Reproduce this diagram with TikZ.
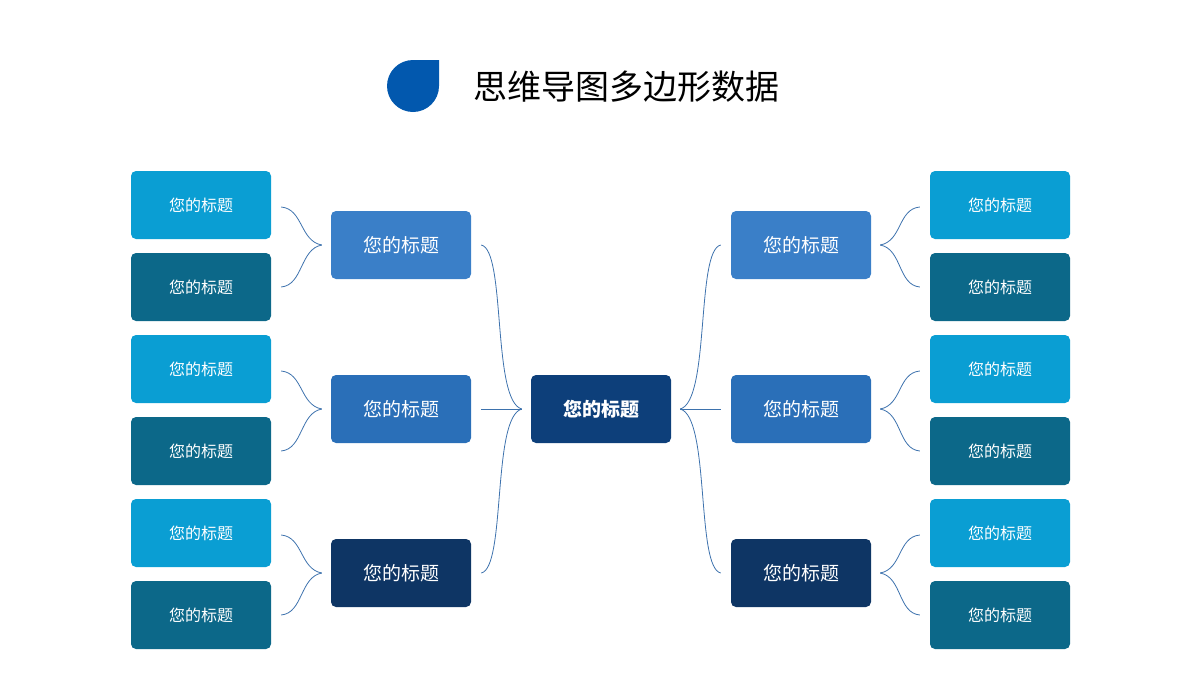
\documentclass[tikz,border=0pt]{standalone}
\usepackage{fontspec}
\newfontfamily\cjk{Noto Sans CJK SC}
\usetikzlibrary{calc}
\definecolor{leafA}{HTML}{0A9ED3}
\definecolor{leafB}{HTML}{0C6889}
\definecolor{midA}{HTML}{3A7FC8}
\definecolor{midB}{HTML}{2A6FB8}
\definecolor{midC}{HTML}{0E3564}
\definecolor{ctr}{HTML}{0D3F7A}
\definecolor{lnk}{HTML}{3D72AD}
\definecolor{icon}{HTML}{0258AE}
\begin{document}
\begin{tikzpicture}[x=1pt,y=-1pt,
  box/.style={rounded corners=5pt,minimum width=140pt,minimum height=68pt,inner sep=0pt,text=white,font=\cjk\fontsize{19}{19}\selectfont},
  leaf/.style={box,font=\cjk\fontsize{16}{16}\selectfont},
  link/.style={draw=lnk,line width=0.8pt}]
\useasboundingbox (0,0) rectangle (1200,675);
\fill[icon] (439,60) -- (439,86) arc (0:270:26) -- cycle;
\node[anchor=west,font=\cjk\fontsize{34}{34}\selectfont] (title) at (470,87) {思维导图多边形数据};
\node[box,fill=ctr,font=\cjk\bfseries\fontsize{19}{19}\selectfont] (c) at (601,409) {您的标题};
\foreach \s/\mx/\lx/\d in {L/401/201/1, R/801/1000/-1}{
  \foreach \i/\y/\col in {1/245/midA, 2/409/midB, 3/573/midC}{
    \node[box,fill=\col] (\s m\i) at (\mx,\y) {您的标题};
    \node[leaf,fill=leafA] (\s a\i) at (\lx,\y-40) {您的标题};
    \node[leaf,fill=leafB] (\s b\i) at (\lx,\y+42) {您的标题};
  }
}
\foreach \i in {1,2,3}{
  \path[link] ($(La\i.east)+(10,2)$) .. controls +(22,2) and +(-22,-4) .. ($(Lm\i.west)+(-9,0)$);
  \path[link] ($(Lb\i.east)+(10,0)$) .. controls +(22,-2) and +(-22,4) .. ($(Lm\i.west)+(-9,0)$);
  \path[link] ($(Ra\i.west)+(-10,2)$) .. controls +(-22,2) and +(22,-4) .. ($(Rm\i.east)+(9,0)$);
  \path[link] ($(Rb\i.west)+(-10,0)$) .. controls +(-22,-2) and +(22,4) .. ($(Rm\i.east)+(9,0)$);
}
\path[link] ($(Lm1.east)+(10,0)$) .. controls +(25,5) and +(-30,-8) .. ($(c.west)+(-9,0)$);
\path[link] ($(Lm3.east)+(10,0)$) .. controls +(25,-5) and +(-30,8) .. ($(c.west)+(-9,0)$);
\path[link] ($(Lm2.east)+(10,0)$) -- ($(c.west)+(-9,0)$);
\path[link] ($(Rm1.west)+(-10,0)$) .. controls +(-25,5) and +(30,-8) .. ($(c.east)+(9,0)$);
\path[link] ($(Rm3.west)+(-10,0)$) .. controls +(-25,-5) and +(30,8) .. ($(c.east)+(9,0)$);
\path[link] ($(Rm2.west)+(-10,0)$) -- ($(c.east)+(9,0)$);
\end{tikzpicture}
\end{document}
